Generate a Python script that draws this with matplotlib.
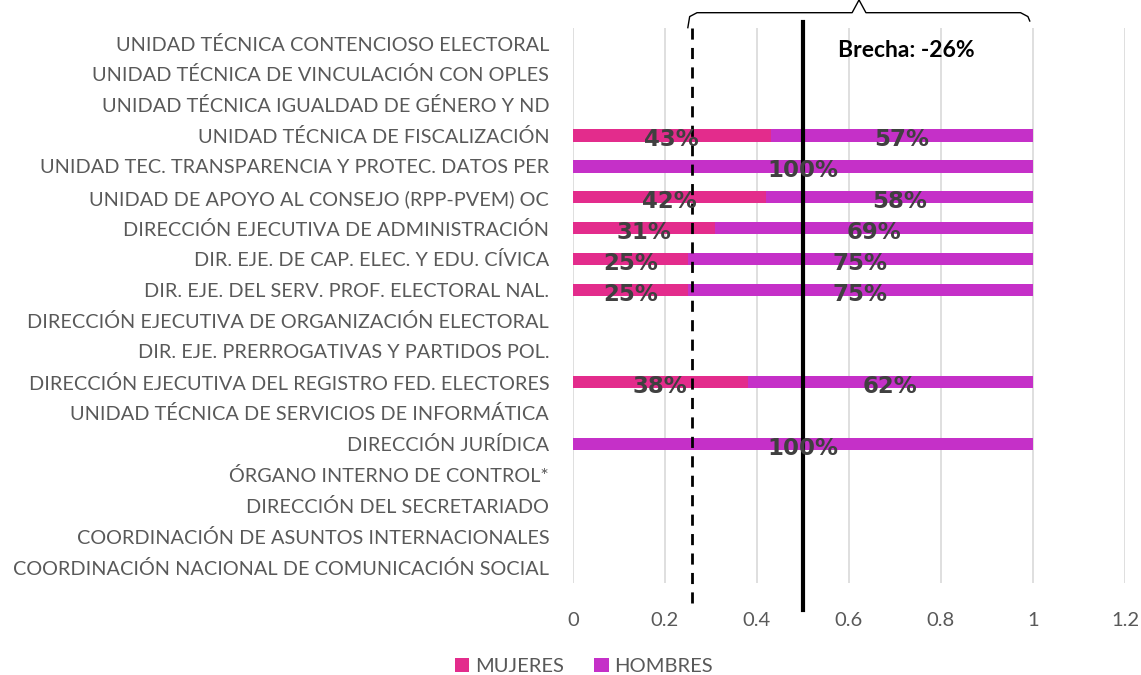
import matplotlib.pyplot as plt
import matplotlib.transforms as mtransforms
import numpy as np

plt.rcParams['font.family'] = ['Lato', 'DejaVu Sans']

# categories, top to bottom
areas = ['UNIDAD TÉCNICA CONTENCIOSO ELECTORAL',
         'UNIDAD TÉCNICA DE VINCULACIÓN CON OPLES',
         'UNIDAD TÉCNICA IGUALDAD DE GÉNERO Y ND',
         'UNIDAD TÉCNICA DE FISCALIZACIÓN',
         'UNIDAD TEC. TRANSPARENCIA Y PROTEC. DATOS PER',
         'UNIDAD DE APOYO AL CONSEJO (RPP-PVEM) OC',
         'DIRECCIÓN EJECUTIVA DE ADMINISTRACIÓN',
         'DIR. EJE. DE CAP. ELEC. Y EDU. CÍVICA',
         'DIR. EJE. DEL SERV. PROF. ELECTORAL NAL.',
         'DIRECCIÓN EJECUTIVA DE ORGANIZACIÓN ELECTORAL',
         'DIR. EJE. PRERROGATIVAS Y PARTIDOS POL.',
         'DIRECCIÓN EJECUTIVA DEL REGISTRO FED. ELECTORES',
         'UNIDAD TÉCNICA DE SERVICIOS DE INFORMÁTICA',
         'DIRECCIÓN JURÍDICA',
         'ÓRGANO INTERNO DE CONTROL*',
         'DIRECCIÓN DEL SECRETARIADO',
         'COORDINACIÓN DE ASUNTOS INTERNACIONALES',
         'COORDINACIÓN NACIONAL DE COMUNICACIÓN SOCIAL']

mujeres = [0, 0, 0, 0.43, 0, 0.42, 0.31, 0.25, 0.25, 0, 0, 0.38, 0, 0, 0, 0, 0, 0]
hombres = [0, 0, 0, 0.57, 1.0, 0.58, 0.69, 0.75, 0.75, 0, 0, 0.62, 0, 1.0, 0, 0, 0, 0]

prop_mujeres = 0.26   # dashed line
paridad = 0.5         # solid line
brecha = '-26%'

c_muj = '#E32C8C'
c_hom = '#C530C8'

fig = plt.figure(figsize=(11.41, 6.75), dpi=100)
ax = fig.add_axes([0.502, 0.137, 0.484, 0.822])

y = np.arange(len(areas))[::-1]
muj = np.array(mujeres)
hom = np.array(hombres)
ax.barh(y, muj, height=0.4, color=c_muj, label='MUJERES', zorder=2)
ax.barh(y, hom, left=muj, height=0.4, color=c_hom, label='HOMBRES', zorder=2)

for yi, m, h in zip(y, muj, hom):
    if m > 0:
        ax.text(m / 2, yi - 0.14, f'{m:.0%}', ha='center', va='center',
                fontsize=16.5, fontweight='bold', color='#404040', zorder=4,
                family='DejaVu Sans')
    if h > 0:
        ax.text(m + h / 2, yi - 0.14, f'{h:.0%}', ha='center', va='center',
                fontsize=16.5, fontweight='bold', color='#404040', zorder=4,
                family='DejaVu Sans')

ax.set_xlim(0, 1.2)
ax.set_ylim(-0.5, len(areas) - 0.5)
ax.set_xticks(np.arange(0, 1.21, 0.2))
ax.set_xticklabels(['0', '0.2', '0.4', '0.6', '0.8', '1', '1.2'])
ax.set_yticks(y)
ax.set_yticklabels(areas)
ax.tick_params(axis='y', length=0, pad=17, labelsize=14.3, labelcolor='#595959')
ax.tick_params(axis='x', length=0, pad=21, labelsize=14.5, labelcolor='#595959')
ax.grid(axis='x', color='#D9D9D9', linewidth=1.2, zorder=0)
for s in ax.spines.values():
    s.set_visible(False)

trans = mtransforms.blended_transform_factory(ax.transData, ax.transAxes)
ax.plot([prop_mujeres, prop_mujeres], [-0.037, 1.01], transform=trans,
        color='black', linestyle=(0, (4, 3)), linewidth=2, clip_on=False, zorder=3)
ax.plot([paridad, paridad], [-0.05, 1.01], transform=trans,
        color='black', linewidth=3, clip_on=False, zorder=3)

# curly brace above the plot
bx0, bx1, bmid = 0.25, 0.993, 0.622
ax.plot([bx0, bx0 + 0.004, bx0 + 0.02, bmid - 0.015, bmid],
        [1.0, 1.02, 1.027, 1.027, 1.05], transform=trans,
        color='black', linewidth=1, clip_on=False)
ax.plot([bmid, bmid + 0.015, bx1 - 0.02, bx1 - 0.004, bx1],
        [1.05, 1.027, 1.027, 1.02, 1.012], transform=trans,
        color='black', linewidth=1, clip_on=False)

ax.text(0.724, 0.958, 'Brecha: ' + brecha, transform=trans, ha='center', va='center',
        fontsize=16.5, fontweight='bold', color='black')

fig.legend(loc='lower center', bbox_to_anchor=(0.512, -0.027), ncol=2, frameon=False,
           fontsize=14.5, handlelength=0.7, handleheight=0.7, handletextpad=0.3,
           columnspacing=1.5, labelcolor='#595959')

fig.savefig('out.png', dpi=100)
